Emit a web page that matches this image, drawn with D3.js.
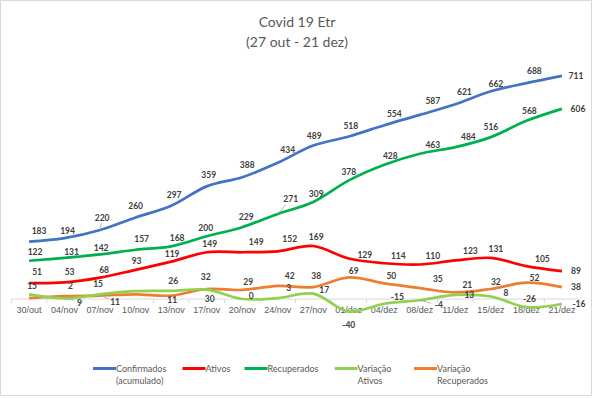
<!DOCTYPE html>
<html>
<head>
<meta charset="utf-8">
<script src="https://cdn.jsdelivr.net/npm/d3@7/dist/d3.min.js"></script>
<style>
body { margin: 0; background: #fff; }
svg { font-family: Lato, "Open Sans", sans-serif; }
.lbl { font-size: 8.5px; font-weight: bold; fill: #404040; }
.cat text { font-size: 9px; fill: #595959; }
.leg text { font-size: 9px; fill: #595959; }
</style>
</head>
<body>
<div id="chart"></div>
<script>

var width = 594;
var height = 399;

// data
var cats = ["30/out", "04/nov", "07/nov", "10/nov", "13/nov", "17/nov", "20/nov", "24/nov",
            "27/nov", "01/dez", "04/dez", "08/dez", "11/dez", "15/dez", "18/dez", "21/dez"];
var confirmados = [183, 194, 220, 260, 297, 359, 388, 434, 489, 518, 554, 587, 621, 662, 688, 711];
var ativos      = [51, 53, 68, 93, 119, 149, 149, 152, 169, 129, 114, 110, 123, 131, 105, 89];
var recuperados = [122, 131, 142, 157, 168, 200, 229, 271, 309, 378, 428, 463, 484, 516, 568, 606];
var varAtivos   = [15, 2, 15, 25, 26, 30, 0, 3, 17, -40, -15, -4, 13, 8, -26, -16];
var varRecup    = [3, 9, 11, 15, 11, 32, 29, 42, 38, 69, 50, 35, 21, 32, 52, 38];

// label nudges (dx, dy) from each point; null = no label shown
var offConf = [[10,-11],[3,-7],[2,-12],[0,-11],[3,-11],[2,-11],[5,-12],[10,-13],[1,-10],[2,-10],[10,-11],[13,-14],[9,-12],[5,-7],[8,-12],[14,0]];
var offRec  = [[6,-9],[7,-6],[1,-6],[6,-11],[6,-8],[-1,-8],[4,-10],[13,-15],[3,-8],[0,-8],[6,-9],[13,-9],[13,-10],[0,-10],[3,-10],[16,0]];
var offAti  = [[8,-11],[5,-10],[4,-8],[1,-9],[1,-8],[3,-8],[14,-10],[12,-12],[3,-9],[16,-4],[14,-7],[13,-8],[15,-9],[5,-9],[16,-7],[14,0]];
var offVarR = [null,[15,7],[15,6],null,[1,4],[-1,-12],[6,-8],[12,-10],[3,-11],[5,-6],[7,-7],[18,-9],[12,-7],[5,-7],[8,-5],[14,0]];
var offVarA = [[3,-8],[6,-12],[-2,-10],null,[2,-10],[3,9],[9,-3],[11,-10],[11,-4],[0,13],[13,-7],[19,5],[14,0],[15,-3],[3,-8],[17,0]];

var series = [
  {name: ["Confirmados", "(acumulado)"], values: confirmados, color: "#4472C4", off: offConf, leader: [2]},
  {name: ["Ativos"], values: ativos, color: "#FF0000", off: offAti, leader: []},
  {name: ["Recuperados"], values: recuperados, color: "#00B050", off: offRec, leader: [7]},
  {name: ["Variação", "Ativos"], values: varAtivos, color: "#92D050", off: offVarA, leader: [11]},
  {name: ["Variação", "Recuperados"], values: varRecup, color: "#ED7D31", off: offVarR, leader: [1, 2]}
];

var svg = d3.select("#chart")
  .append("svg")
    .attr("width", width)
    .attr("height", height);

// chart border
svg.append("rect")
  .attr("x", 0.5).attr("y", 0.5)
  .attr("width", 591).attr("height", 395)
  .attr("fill", "#fff")
  .attr("stroke", "#D9D9D9");

// title
svg.append("text")
  .attr("x", 297).attr("y", 27)
  .attr("text-anchor", "middle")
  .style("font-size", "14px").style("fill", "#595959")
  .text("Covid 19 Etr");
svg.append("text")
  .attr("x", 297).attr("y", 47)
  .attr("text-anchor", "middle")
  .style("font-size", "14px").style("fill", "#595959")
  .text("(27 out - 21 dez)");

var x_scale = d3.scaleBand()
  .domain(cats)
  .range([11.3, 579.7])
  .padding(0);

var y_scale = d3.scaleLinear()
  .domain([-100, 800])
  .range([330.4, 48]);

var cx = function(i) { return x_scale(cats[i]) + x_scale.bandwidth() / 2; };

// category axis at zero
var y0 = y_scale(0);
svg.append("g")
  .attr("class", "cat")
  .attr("transform", `translate(0,${y0})`)
  .call(d3.axisBottom(x_scale).tickSize(0).tickPadding(8))
  .call(g => g.select(".domain").remove());

svg.append("line")
  .attr("x1", x_scale.range()[0]).attr("x2", x_scale.range()[1])
  .attr("y1", y0).attr("y2", y0)
  .attr("stroke", "#D9D9D9");

svg.selectAll("line.tick-mark")
  .data(d3.range(cats.length + 1))
  .enter().append("line")
    .attr("class", "tick-mark")
    .attr("x1", i => x_scale.range()[0] + i * x_scale.bandwidth())
    .attr("x2", i => x_scale.range()[0] + i * x_scale.bandwidth())
    .attr("y1", y0).attr("y2", y0 + 4)
    .attr("stroke", "#D9D9D9");

var line = d3.line()
  .x((d, i) => cx(i))
  .y(d => y_scale(d))
  .curve(d3.curveCatmullRom.alpha(0.5));

// draw order: confirmed, recovered, active, then the two variations
[0, 2, 1, 4, 3].forEach(function(k) {
  var s = series[k];
  svg.append("path")
    .attr("d", line(s.values))
    .attr("fill", "none")
    .attr("stroke", s.color)
    .attr("stroke-width", 2.7)
    .attr("stroke-linejoin", "round");
});

series.forEach(function(s) {
  // leader lines for labels that were dragged away
  s.leader.forEach(function(i) {
    var o = s.off[i];
    svg.append("line")
      .attr("x1", cx(i)).attr("y1", y_scale(s.values[i]))
      .attr("x2", cx(i) + o[0] * 0.6).attr("y2", y_scale(s.values[i]) + o[1] * 0.6)
      .attr("stroke", "#A6A6A6").attr("stroke-width", 0.8);
  });

  var pts = s.values.map((v, i) => ({v: v, i: i, o: s.off[i]})).filter(d => d.o);
  svg.selectAll(null)
    .data(pts)
    .enter().append("text")
      .attr("class", "lbl")
      .attr("text-anchor", "middle")
      .attr("dy", "0.35em")
      .attr("x", d => cx(d.i) + d.o[0])
      .attr("y", d => y_scale(d.v) + d.o[1])
      .text(d => d.v);
});

// legend
var legX = [93, 182.5, 244.5, 334.6, 414];
var leg = svg.append("g").attr("class", "leg");
series.forEach(function(s, k) {
  leg.append("line")
    .attr("x1", legX[k]).attr("x2", legX[k] + 23)
    .attr("y1", 368.5).attr("y2", 368.5)
    .attr("stroke", s.color).attr("stroke-width", 3);
  s.name.forEach(function(t, j) {
    leg.append("text")
      .attr("x", legX[k] + 23)
      .attr("y", 368.5 + j * 12.5)
      .attr("dy", "0.35em")
      .text(t);
  });
});

</script>
</body>
</html>
